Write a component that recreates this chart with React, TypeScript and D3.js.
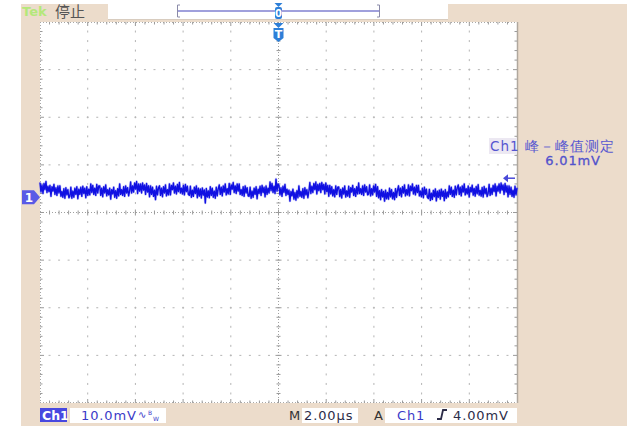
import React from "react";
import * as d3 from "d3";

// ---- Data ----
const voltsPerDiv = 10; // mV/div
const timePerDiv = 2; // µs/div
const ch1OffsetDiv = 0.32; // ground marker position in divisions above centre
const triggerLevel = 4.0; // mV
const peakToPeak = "6.01mV";
const hDivs = 10;
const vDivs = 8;

// Ch1 acquired trace in mV, 480 samples across the 20 µs record
const ch1Samples: number[] = [
  3.1, 1.1, 2.6, 0.8, 2.9, 1.6, 3.3, 1.0, 2.3, 1.2, 2.5, 0.2, 2.2, 1.3, 2.7, 0.6, 2.0, 0.4, 2.4, 0.9,
  2.4, 0.2, 1.2, 0.0, 1.8, -0.2, 2.0, 0.5, 1.6, -0.1,
  0.2, 2.1, -0.2, 1.3, 0.0, 1.9, 0.6, 2.2, -0.3, 1.7, 0.6, 2.1, 0.2, 2.3, 0.8, 1.9, -0.1, 2.2, 0.4, 1.7,
  0.5, 2.8, 1.0, 2.5, 0.6, 1.9, 0.4, 2.7, 0.9, 2.4,
  2.4, 0.4, 1.9, 0.1, 2.2, 0.9, 2.6, 0.3, 1.6, 0.5, 1.9, -0.4, 1.6, 0.7, 2.1, 0.0, 1.4, -0.2, 1.8, 0.3,
  2.8, 0.6, 1.6, 0.4, 2.2, 0.2, 2.4, 0.9, 2.0, 0.3,
  1.3, 3.2, 0.9, 2.4, 1.1, 3.0, 1.7, 3.3, 0.8, 2.8, 1.3, 2.8, 0.9, 3.0, 1.5, 2.6, 0.6, 2.9, 1.1, 2.4,
  0.1, 2.4, 0.6, 2.1, 0.2, 1.5, -0.5, 2.3, 0.5, 2.0,
  2.4, 0.4, 1.9, 0.1, 2.2, 0.9, 2.6, 0.3, 1.6, 0.5, 2.8, 0.5, 2.5, 1.6, 3.0, 0.9, 2.3, 0.7, 2.7, 1.2,
  3.1, 0.9, 1.9, 0.7, 2.5, 0.5, 2.7, 1.2, 2.3, 0.6,
  0.4, 2.3, 0.0, 1.5, 0.2, 2.1, 0.8, 2.4, -0.1, 1.9, 0.25, 1.75, -0.15, 1.95, 0.45, 1.55, -1.2, 1.85, 0.05, 1.35,
  -0.1, 2.2, 0.4, 1.9, 0.0, 1.3, -0.2, 2.1, 0.3, 1.8,
  2.6, 0.6, 2.1, 0.3, 2.4, 1.1, 2.8, 0.5, 1.8, 0.7, 2.9, 0.6, 2.6, 1.7, 3.1, 1.0, 2.4, 0.8, 2.8, 1.3,
  2.8, 0.6, 1.6, 0.4, 2.2, 0.2, 2.4, 0.9, 2.0, 0.3,
  0.2, 2.1, -0.2, 1.3, 0.0, 1.9, 0.6, 2.2, -0.3, 1.7, 0.8, 2.3, 0.4, 2.5, 1.0, 2.1, 0.1, 2.4, 0.6, 1.9,
  0.9, 3.2, 1.4, 2.9, 1.0, 2.3, 0.8, 3.8, 1.3, 2.8,
  2.5, 0.5, 2.0, 0.2, 2.3, 1.0, 2.7, 0.4, 1.7, 0.6, 1.5, -0.8, 1.2, 0.3, 1.7, -0.4, 1.0, -0.6, 1.4, -0.1,
  2.4, 0.2, 1.2, 0.0, 1.8, -0.2, 2.0, 0.5, 1.6, -0.1,
  1.2, 3.1, 0.8, 2.3, 1.0, 2.9, 1.6, 3.2, 0.7, 2.7, 1.4, 2.9, 1.0, 3.1, 1.6, 2.7, 0.7, 3.0, 1.2, 2.5,
  0.2, 2.5, 0.7, 2.2, 0.3, 1.6, 0.1, 2.4, 0.6, 2.1,
  2.15, 0.15, 1.65, -0.15, 1.95, 0.65, 2.35, 0.05, 1.35, 0.25, 2.3, 0.0, 2.0, 1.1, 2.5, 0.4, 1.8, 0.2, 2.2, 0.7,
  3.0, 0.8, 1.8, 0.6, 2.4, 0.4, 2.6, 1.1, 2.2, 0.5,
  0.7, 2.6, 0.3, 1.8, 0.5, 2.4, 1.1, 2.7, 0.2, 2.2, -0.1, 1.4, -0.5, 1.6, 0.1, 1.2, -0.8, 1.5, -0.3, 1.0,
  -0.4, 1.9, 0.1, 1.6, -0.3, 1.0, -0.5, 1.8, 0.0, 1.5,
  2.4, 0.4, 1.9, 0.1, 2.2, 0.9, 2.6, 0.3, 1.6, 0.5, 2.6, 0.3, 2.3, 1.4, 2.8, 0.7, 2.1, 0.5, 2.5, 1.0,
  2.5, 0.3, 1.3, 0.1, 1.9, -0.1, 2.1, 0.6, 1.7, 0.0,
  -0.25, 1.65, -0.65, 0.85, -0.45, 1.45, 0.15, 1.75, -0.75, 1.25, 0.0, 1.5, -0.4, 1.7, 0.2, 1.3, -0.7, 1.6, -0.2, 1.1,
  0.1, 2.4, 0.6, 2.1, 0.2, 1.5, 0.0, 2.3, 0.5, 2.0,
  2.6, 0.6, 2.1, 0.3, 2.4, 1.1, 2.8, 0.5, 1.8, 0.7, 2.35, 0.05, 2.05, 1.15, 2.55, 0.45, 1.85, 0.25, 2.25, 0.75,
  2.65, 0.45, 1.45, 0.25, 2.05, 0.05, 2.25, 0.75, 1.85, 0.15,
  0.8, 2.7, 0.4, 1.9, 0.6, 2.5, 1.2, 2.8, 0.3, 2.3, 1.3, 2.8, 0.9, 3.0, 1.5, 2.6, 0.6, 2.9, 1.1, 2.4,
  0.1, 2.4, 0.6, 2.1, 0.2, 1.5, 0.0, 2.3, 0.5, 2.0,
];

const topLabels = { brand: "Tek", state: "停止" };
const measureTitle = "Ch1 峰－峰值测定";
const ch1Label = "Ch1";
const ch1Scale = "10.0mV";
const timeBaseLabel = "2.00µs";
const trigSource = "Ch1";
const trigLevelLabel = "4.00mV";

const W = 637;
const H = 426;

export default function App() {
  const gx0 = 40, gx1 = 517, gy0 = 22, gy1 = 403;
  const x = d3.scaleLinear().domain([-hDivs / 2 * timePerDiv, hDivs / 2 * timePerDiv]).range([gx0, gx1]);
  const yDiv = d3.scaleLinear().domain([-vDivs / 2, vDivs / 2]).range([gy1, gy0]);
  const yMv = (v: number) => yDiv(v / voltsPerDiv + ch1OffsetDiv);
  const n = ch1Samples.length;
  const span = hDivs * timePerDiv;
  const tAt = (i: number) => -span / 2 + (i * span) / (n - 1);
  const line = d3.line<number>().x((_, i) => x(tAt(i))).y((v) => yMv(v));
  const path = line(ch1Samples) || "";

  const divW = (gx1 - gx0) / hDivs;
  const divH = (gy1 - gy0) / vDivs;
  const cx = (gx0 + gx1) / 2;
  const cy = (gy0 + gy1) / 2;

  const gridDots: JSX.Element[] = [];
  d3.range(1, hDivs).forEach((k) => {
    if (k === hDivs / 2) return;
    const xx = gx0 + k * divW;
    d3.range(1, vDivs * 5).forEach((m) => {
      const yy = gy0 + (m * divH) / 5;
      gridDots.push(<rect key={`v${k}-${m}`} x={xx - 0.5} y={yy - 1} width={1} height={2} fill="#b4b4b4" />);
    });
  });
  d3.range(1, vDivs).forEach((k) => {
    if (k === vDivs / 2) return;
    const yy = gy0 + k * divH;
    d3.range(1, hDivs * 5).forEach((m) => {
      const xx = gx0 + (m * divW) / 5;
      gridDots.push(<rect key={`h${k}-${m}`} x={xx - 1} y={yy - 0.5} width={2} height={1} fill="#b4b4b4" />);
    });
  });

  const ticks: JSX.Element[] = [];
  d3.range(1, hDivs * 5).forEach((m) => {
    const xx = gx0 + (m * divW) / 5;
    const major = m % 5 === 0;
    ticks.push(<line key={`ct${m}`} x1={xx} x2={xx} y1={cy - (major ? 3 : 2)} y2={cy + (major ? 3 : 2)} stroke="#9a9a9a" strokeWidth={1} />);
    ticks.push(<line key={`tt${m}`} x1={xx} x2={xx} y1={gy0} y2={gy0 + (major ? 4 : 2.5)} stroke="#9a9a9a" strokeWidth={1} />);
    ticks.push(<line key={`bt${m}`} x1={xx} x2={xx} y1={gy1} y2={gy1 - (major ? 4 : 2.5)} stroke="#9a9a9a" strokeWidth={1} />);
  });
  d3.range(1, vDivs * 5).forEach((m) => {
    const yy = gy0 + (m * divH) / 5;
    const major = m % 5 === 0;
    ticks.push(<line key={`cv${m}`} x1={cx - (major ? 3 : 2)} x2={cx + (major ? 3 : 2)} y1={yy} y2={yy} stroke="#9a9a9a" strokeWidth={1} />);
    ticks.push(<line key={`lt${m}`} x1={gx0} x2={gx0 + (major ? 4 : 2.5)} y1={yy} y2={yy} stroke="#9a9a9a" strokeWidth={1} />);
    ticks.push(<line key={`rt${m}`} x1={gx1} x2={gx1 - (major ? 4 : 2.5)} y1={yy} y2={yy} stroke="#9a9a9a" strokeWidth={1} />);
  });

  const gndY = yMv(0);
  const trigY = yMv(triggerLevel);
  const font = "'DejaVu Sans', Verdana, sans-serif";
  const blue = "#4a4ad8";

  return (
    <svg width={W} height={H} style={{ position: "absolute", left: 0, top: 0, background: "#fff" }}>
      <rect x={0} y={0} width={W} height={H} fill="#ffffff" />
      <rect x={21} y={4} width={606} height={H - 4} fill="#ecdccb" />
      <rect x={gx0} y={gy0} width={gx1 - gx0} height={gy1 - gy0} fill="#ffffff" />
      <line x1={gx1 + 0.5} x2={gx1 + 0.5} y1={gy0} y2={gy1} stroke="#b0a89e" strokeWidth={1.5} />
      <line x1={gx0} x2={gx1} y1={gy0 + 0.5} y2={gy0 + 0.5} stroke="#a8a8a8" strokeDasharray="1,2" />
      <line x1={gx0} x2={gx1} y1={gy1 - 0.5} y2={gy1 - 0.5} stroke="#a8a8a8" strokeDasharray="1,2" />
      <line x1={gx0 + 0.5} x2={gx0 + 0.5} y1={gy0} y2={gy1} stroke="#a8a8a8" strokeDasharray="1,2" />
      <line x1={gx0} x2={gx1} y1={cy} y2={cy} stroke="#a0a0a0" strokeDasharray="1,2" />
      <line x1={cx} x2={cx} y1={gy0} y2={gy1} stroke="#a0a0a0" strokeDasharray="1,2" />
      {gridDots}
      {ticks}

      {/* trace */}
      <path d={path} fill="none" stroke="#6a6af0" strokeWidth={2.6} strokeLinejoin="round" strokeOpacity={0.35} />
      <path d={path} fill="none" stroke="#1010e2" strokeWidth={1.4} strokeLinejoin="round" />

      {/* top status bar */}
      <text x={22} y={16} fontFamily={font} fontSize={13} fontWeight="bold" fill="#b4e87a">{topLabels.brand}</text>
      <text x={55} y={17} fontFamily="'Noto Sans CJK SC', sans-serif" fontSize={15} fill="#555">{topLabels.state}</text>
      <rect x={108} y={4} width={340} height={15} fill="#ffffff" />
      <line x1={108} x2={448} y1={19.5} y2={19.5} stroke="#d8ccbf" />
      <line x1={177} x2={380} y1={11} y2={11} stroke="#a0a0dc" strokeWidth={2} />
      <path d="M180,5 L177.5,5 L177.5,17 L180,17" fill="none" stroke="#8a8aa8" strokeWidth={1} />
      <path d="M377,5 L379.5,5 L379.5,17 L377,17" fill="none" stroke="#8a8aa8" strokeWidth={1} />
      <path d={`M${cx - 4},3 L${cx + 4},3 L${cx},7 Z`} fill="#2d7fd8" />
      <rect x={cx - 3.5} y={7} width={7} height={12} rx={2} fill="#2d7fd8" />
      <text x={cx} y={17} textAnchor="middle" fontFamily={font} fontSize={10} fontWeight="bold" fill="#fff">0</text>
      <path d={`M${cx - 5},23 L${cx + 5},23 L${cx},28 Z`} fill="#2d7fd8" />
      <path d={`M${cx - 5},28 L${cx + 5},28 L${cx + 5},38 L${cx},42 L${cx - 5},38 Z`} fill="#2d7fd8" />
      <text x={cx} y={38} textAnchor="middle" fontFamily={font} fontSize={11} fontWeight="bold" fill="#fff">T</text>

      {/* ch1 ground marker */}
      <path d={`M22,${gndY - 7} L34,${gndY - 7} L40,${gndY} L34,${gndY + 7} L22,${gndY + 7} Z`} fill="#5a5ae6" />
      <text x={29} y={gndY + 5} textAnchor="middle" fontFamily={font} fontSize={12} fontWeight="bold" fill="#fff">1</text>

      {/* trigger level arrow */}
      <line x1={505} x2={515} y1={trigY} y2={trigY} stroke={blue} strokeWidth={1.5} />
      <path d={`M503,${trigY} L508,${trigY - 4} L508,${trigY + 4} Z`} fill={blue} />

      {/* measurement */}
      <rect x={489} y={138} width={28} height={16} fill="#ece8f2" />
      <text x={490} y={151} fontFamily={font} fontSize={13.5} fill="#5656d0" letterSpacing={1}>{measureTitle}</text>
      <text x={573} y={165} textAnchor="middle" fontFamily={font} fontSize={13} fill="#5252cc" stroke="#5252cc" strokeWidth={0.3} letterSpacing={0.8}>{peakToPeak}</text>

      {/* bottom status bar */}
      <rect x={40} y={408} width={27} height={14} fill="#4848e0" />
      <text x={42} y={420} fontFamily={font} fontSize={12.5} fontWeight="bold" fill="#fff">{ch1Label}</text>
      <rect x={70} y={408} width={96} height={15} fill="#ffffff" />
      <text x={81} y={420} fontFamily={font} fontSize={13} fill="#3a3ac8" letterSpacing={0.9}>{ch1Scale}</text>
      <text x={138} y={418} fontFamily={font} fontSize={10} fill="#3a3ac8">∿</text>
      <text x={148} y={415} fontFamily={font} fontSize={6} fill="#3a3ac8">B</text>
      <text x={153} y={421} fontFamily={font} fontSize={6} fill="#3a3ac8">W</text>
      <text x={289} y={420} fontFamily={font} fontSize={13} fill="#333">M</text>
      <rect x={302} y={408} width={56} height={15} fill="#ffffff" />
      <text x={304} y={420} fontFamily={font} fontSize={13} fill="#2c2c48" letterSpacing={0.9}>{timeBaseLabel}</text>
      <text x={374} y={420} fontFamily={font} fontSize={13} fill="#333">A</text>
      <rect x={385} y={408} width={132} height={15} fill="#ffffff" />
      <text x={397} y={420} fontFamily={font} fontSize={13} fill="#3a3ac8" letterSpacing={0.9}>{trigSource}</text>
      <path d="M437,419 L441,419 L443,410 L447,410" fill="none" stroke="#2c2c48" strokeWidth={1.8} />
      <text x={453} y={420} fontFamily={font} fontSize={13} fill="#2c2c48" letterSpacing={0.9}>{trigLevelLabel}</text>
    </svg>
  );
}
